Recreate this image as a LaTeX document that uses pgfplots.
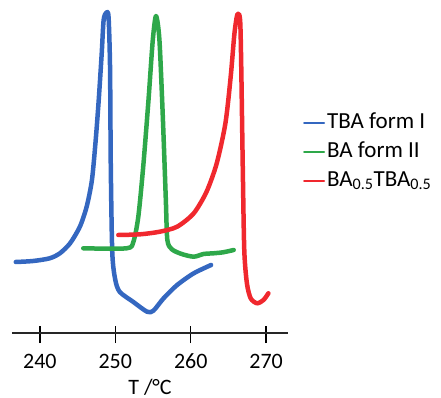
\documentclass[border=0pt]{standalone}
\usepackage{pgfplots}
\pgfplotsset{compat=1.18}
\usepackage{fontspec}
\setmainfont{Carlito}
\definecolor{cblue}{HTML}{3467C0}
\definecolor{cgreen}{HTML}{2EA84A}
\definecolor{cred}{HTML}{F0282E}
\begin{document}
\begin{tikzpicture}
\useasboundingbox (-12pt,-65pt) rectangle (429pt,333pt);
\begin{axis}[
  at={(0pt,0pt)}, anchor=south west,
  scale only axis, width=276pt, height=328pt,
  xmin=236.3, xmax=272.9, ymin=0, ymax=328,
  axis x line=bottom, axis y line=none,
  x axis line style={-, line width=1.2pt, color=black!85},
  xtick={240,250,260,270},
  tick align=inside, major tick length=17pt,
  xtick style={line width=1.4pt, color=black, yshift=-10pt},
  /pgf/number format/assume math mode=true,
  xticklabel style={font=\fontsize{22}{26}\selectfont, anchor=base, yshift=-35pt},
  xlabel={T /°C},
  xlabel style={font=\fontsize{22}{26}\selectfont, at={(axis description cs:0.5,0)}, anchor=base, yshift=-61pt},
  clip=false,
  legend cell align=left,
  legend image code/.code={\draw[#1, line width=2pt] (0pt,0pt) -- (20pt,0pt);},
  legend style={draw=none, fill=none, font=\fontsize{23}{27}\selectfont,
    at={(1.054,0.68)}, anchor=north west, inner sep=0pt, row sep=3pt,
    nodes={text height=16pt, text depth=6pt, inner sep=2pt}},
]
\addplot[cblue, line width=4.5pt, smooth, tension=0.45, line cap=round, line join=round] coordinates {
(236.8,71) (239.1,72) (241.3,74.7) (242.65,79.7) (244.0,89.7) (245.3,106.3) (246.2,126.3) (246.9,153) (247.4,193) (247.8,233) (248.2,280) (248.45,313) (248.8,320.3) (249.1,316.3) (249.3,266) (249.4,166) (249.6,80) (250.0,53) (250.6,41) (252.4,31) (254.2,21.3) (255.05,22.3) (256.4,34.7) (258.2,48) (260.4,59.7) (262.7,68)
};
\addlegendentry{TBA form I}
\addplot[cgreen, line width=4.5pt, smooth, tension=0.45, line cap=round, line join=round] coordinates {
(245.75,84.7) (251.5,84.7) (252.4,91.3) (253.05,116.3) (253.7,166.3) (254.4,233) (254.97,293) (255.4,317) (255.85,293) (256.3,216) (256.7,133) (256.9,93) (257.5,83.7) (258.8,79) (260.4,76.3) (261.7,79) (263.0,79.7) (264.3,80.7) (265.7,83)
};
\addlegendentry{BA form II}
\addplot[cred, line width=4.5pt, smooth, tension=0.45, line cap=round, line join=round] coordinates {
(250.4,98) (253.3,98.7) (255.9,101.3) (258.2,106.3) (260.4,119.7) (262.1,141.3) (263.45,169.7) (264.6,209.7) (265.3,256.3) (265.8,299.7) (266.2,319) (266.55,313) (266.7,266.3) (266.9,166.3) (267.1,83) (267.45,49.7) (267.95,34.7) (268.8,29.7) (269.65,33) (270.3,39.7)
};
\addlegendentry{BA\textsubscript{0.5}TBA\textsubscript{0.5}}
\end{axis}
\end{tikzpicture}
\end{document}
